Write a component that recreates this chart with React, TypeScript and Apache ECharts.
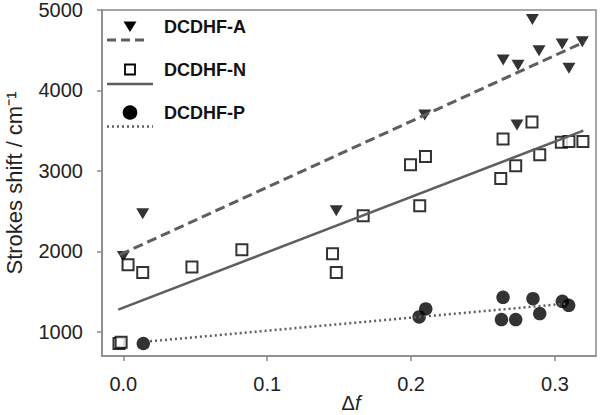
import React, { useEffect, useRef } from "react";
import * as echarts from "echarts";

const seriesNames = ["DCDHF-A", "DCDHF-N", "DCDHF-P"];

const dataA: [number, number][] = [
  [0.0, 1938], [0.0135, 2468], [0.148, 2505], [0.2095, 3696], [0.2736, 3572],
  [0.2843, 4883], [0.264, 4378], [0.2743, 4313], [0.2889, 4494], [0.305, 4577],
  [0.319, 4605], [0.3097, 4275],
];

const dataN: [number, number][] = [
  [-0.003, 855], [-0.0015, 871], [0.0033, 1835], [0.0135, 1739], [0.0477, 1806],
  [0.0824, 2021], [0.1454, 1971], [0.148, 1739], [0.1667, 2443], [0.1996, 3076],
  [0.21, 3179], [0.206, 2567], [0.2639, 3398], [0.2623, 2906], [0.2727, 3063],
  [0.284, 3609], [0.2894, 3200], [0.3044, 3357], [0.3097, 3365], [0.3194, 3365],
];

const dataP: [number, number][] = [
  [0.0139, 855], [0.2056, 1186], [0.2102, 1285], [0.2639, 1429], [0.2628, 1153],
  [0.2727, 1153], [0.2847, 1413], [0.2894, 1227], [0.3051, 1380], [0.3095, 1330],
];

const fitA: [number, number][] = [[-0.0023, 1959], [0.3206, 4605]];
const fitN: [number, number][] = [[-0.0035, 1277], [0.3197, 3501]];
const fitP: [number, number][] = [[0.0186, 883], [0.308, 1351]];

const xTicks = [0, 0.1, 0.2, 0.3];
const yTicks = [1000, 2000, 3000, 4000, 5000];

const FONT = "'Liberation Sans', Arial, Helvetica, sans-serif";
const AXIS_GREY = "#8a8a8a";
const LINE_GREY = "#5e5e5e";

export default function App() {
  const ref = useRef<HTMLDivElement>(null);

  useEffect(() => {
    if (!ref.current) return;
    const chart = echarts.init(ref.current, undefined, { renderer: "svg" });

    const legendY = [26.5, 69.5, 112.5];
    const lineY = [40, 84, 126.5];

    chart.setOption({
      animation: false,
      backgroundColor: "#ffffff",
      grid: {
        left: 102,
        right: 4,
        top: 10,
        bottom: 59,
        containLabel: false,
        outerBoundsMode: "none",
        show: true,
        borderColor: AXIS_GREY,
        borderWidth: 1.5,
        backgroundColor: "transparent",
      },
      xAxis: {
        type: "value",
        min: -0.0148,
        max: 0.3285,
        splitLine: { show: false },
        axisLine: { show: true, onZero: false, lineStyle: { color: AXIS_GREY, width: 1.5 } },
        axisTick: {
          show: true,
          inside: false,
          length: 5,
          customValues: xTicks,
          lineStyle: { color: AXIS_GREY, width: 1.5 },
        },
        axisLabel: {
          customValues: xTicks,
          margin: 18,
          fontSize: 20,
          fontFamily: FONT,
          color: "#222",
          formatter: (v: number) => v.toFixed(1),
        },
      },
      yAxis: {
        type: "value",
        min: 700,
        max: 5000,
        splitLine: { show: false },
        axisLine: { show: true, onZero: false, lineStyle: { color: AXIS_GREY, width: 1.5 } },
        axisTick: {
          show: true,
          inside: false,
          length: 5,
          customValues: yTicks,
          lineStyle: { color: AXIS_GREY, width: 1.5 },
        },
        axisLabel: {
          customValues: yTicks,
          margin: 19,
          fontSize: 20,
          fontFamily: FONT,
          color: "#222",
          formatter: (v: number) => String(v),
        },
        name: "Strokes shift / cm⁻¹",
        nameLocation: "middle",
        nameGap: 77,
        nameRotate: 90,
        nameTextStyle: { fontSize: 22, fontFamily: FONT, color: "#222" },
      },
      series: [
        {
          name: seriesNames[0],
          type: "scatter",
          data: dataA,
          symbol: "triangle",
          symbolRotate: 180,
          symbolSize: [13, 11],
          itemStyle: { color: "#000" },
          z: 3,
        },
        {
          name: seriesNames[1],
          type: "scatter",
          data: dataN,
          symbol: "rect",
          symbolSize: 11,
          itemStyle: { color: "#fff", borderColor: "#000", borderWidth: 2 },
          z: 3,
        },
        {
          name: seriesNames[2],
          type: "scatter",
          data: dataP,
          symbol: "circle",
          symbolSize: 13.5,
          itemStyle: { color: "#000" },
          z: 3,
        },
        {
          type: "line",
          data: fitA,
          showSymbol: false,
          symbol: "none",
          lineStyle: { color: LINE_GREY, width: 3, type: [10, 5] },
          z: 4,
        },
        {
          type: "line",
          data: fitN,
          showSymbol: false,
          symbol: "none",
          lineStyle: { color: LINE_GREY, width: 2.5, type: "solid" },
          z: 4,
        },
        {
          type: "line",
          data: fitP,
          showSymbol: false,
          symbol: "none",
          lineStyle: { color: LINE_GREY, width: 2.5, type: [2, 3] },
          z: 4,
        },
      ],
      graphic: [
        {
          type: "text",
          x: 351,
          y: 403,
          style: {
            text: "{d|Δ}{f|f}",
            align: "center",
            verticalAlign: "middle",
            rich: {
              d: { fontSize: 20, fontFamily: FONT, fill: "#222" },
              f: { fontSize: 20, fontFamily: FONT, fontStyle: "italic", fill: "#222" },
            },
          },
        },
        {
          type: "polygon",
          shape: { points: [[123.5, 21.5], [136.5, 21.5], [130, 32]] },
          style: { fill: "#000" },
        },
        {
          type: "line",
          shape: { x1: 107, y1: lineY[0], x2: 149, y2: lineY[0] },
          style: { stroke: LINE_GREY, lineWidth: 3, lineDash: [9, 5] },
        },
        {
          type: "rect",
          shape: { x: 125, y: legendY[1] - 5, width: 10, height: 10 },
          style: { fill: "#fff", stroke: "#000", lineWidth: 1.8 },
        },
        {
          type: "line",
          shape: { x1: 107, y1: lineY[1], x2: 153, y2: lineY[1] },
          style: { stroke: LINE_GREY, lineWidth: 2.5 },
        },
        {
          type: "circle",
          shape: { cx: 130, cy: legendY[2], r: 7.3 },
          style: { fill: "#000" },
        },
        {
          type: "line",
          shape: { x1: 107, y1: lineY[2], x2: 153, y2: lineY[2] },
          style: { stroke: LINE_GREY, lineWidth: 2.5, lineDash: [2, 3] },
        },
        ...seriesNames.map((n, i) => ({
          type: "text",
          x: 164,
          y: legendY[i],
          style: {
            text: n,
            fontSize: 18,
            fontWeight: "bold",
            fontFamily: FONT,
            fill: "#111",
            verticalAlign: "middle",
            align: "left",
          },
        })),
      ],
    });

    return () => chart.dispose();
  }, []);

  return (
    <div
      ref={ref}
      style={{ position: "fixed", left: 0, top: 0, width: 600, height: 415 }}
    />
  );
}
